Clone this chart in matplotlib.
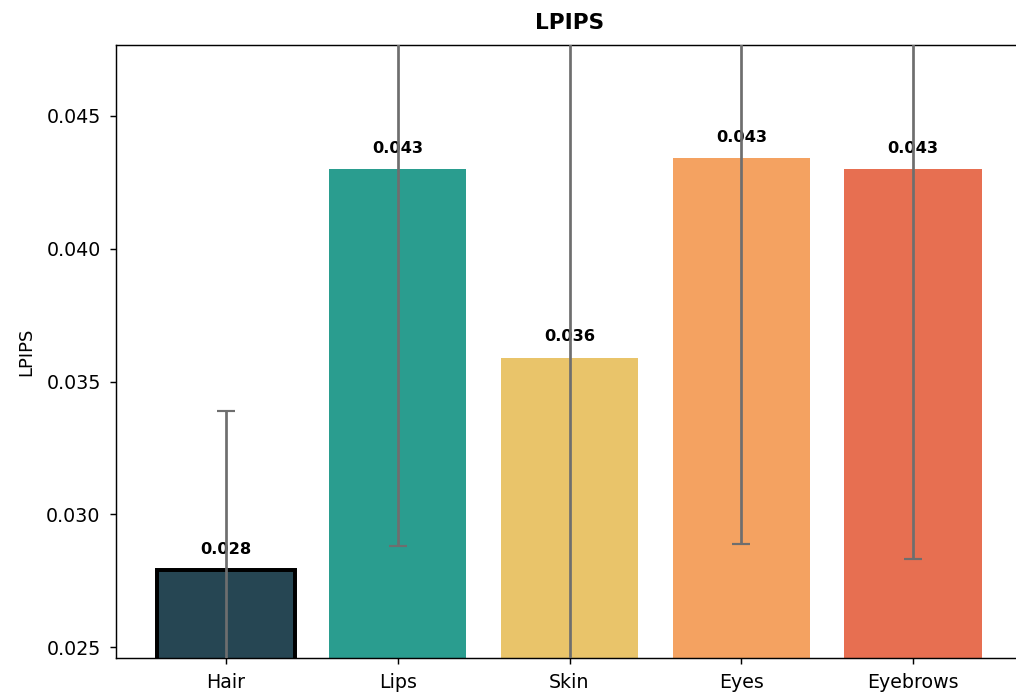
import matplotlib
matplotlib.use('Agg')
import matplotlib.pyplot as plt

# Data
regions = ['Hair', 'Lips', 'Skin', 'Eyes', 'Eyebrows']
lpips_mean = [0.0279, 0.0430, 0.0359, 0.0434, 0.0430]
lpips_std = [0.0060, 0.0142, 0.0150, 0.0145, 0.0147]
bar_colors = ['#264653', '#2a9d8f', '#e9c46a', '#f4a261', '#e76f51']

DPI = 130
fig = plt.figure(figsize=(1016 / DPI, 698 / DPI), dpi=DPI)
# axes runs a little past the right edge, like the cropped original
ax = fig.add_axes([116 / 1016, 40 / 698, 907 / 1016, 613 / 698])

bars = ax.bar(regions, lpips_mean, yerr=lpips_std, color=bar_colors, width=0.8,
              error_kw=dict(ecolor='#6e6e6e', elinewidth=1.5, capsize=5,
                            capthick=1.2, zorder=4))

# best (lowest) region gets a black outline
best = lpips_mean.index(min(lpips_mean))
bars[best].set_edgecolor('black')
bars[best].set_linewidth(2.2)

for rect, val in zip(bars, lpips_mean):
    ax.text(rect.get_x() + rect.get_width() / 2, val + 0.0005, f'{val:.3f}',
            ha='center', va='bottom', fontsize=9, fontweight='bold')

ax.set_ylim(0.02459, 0.04767)
ax.set_yticks([0.025, 0.030, 0.035, 0.040, 0.045])
ax.tick_params(axis='both', labelsize=10.5, pad=5)
ax.set_ylabel('LPIPS', labelpad=6)
ax.set_title('LPIPS', fontweight='bold', fontsize=12, pad=9)

fig.savefig('out.png', dpi=DPI)
